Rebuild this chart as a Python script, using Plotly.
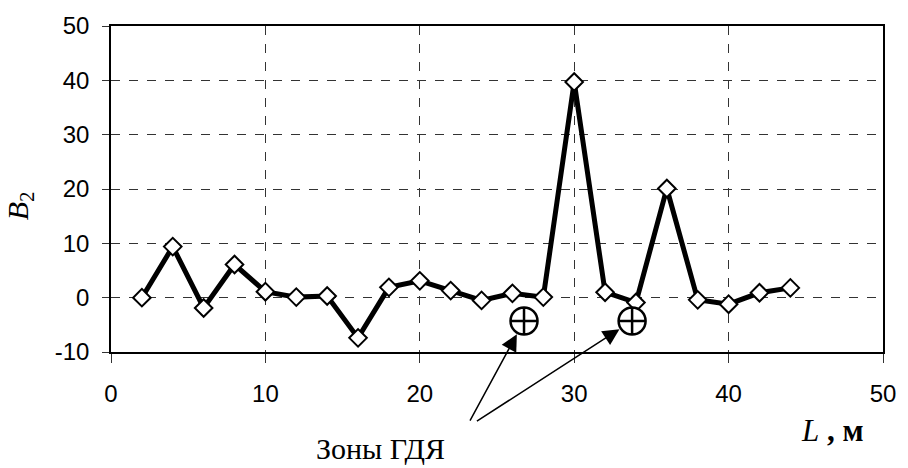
import plotly.graph_objects as go

# Data
L_m = [2, 4, 6, 8, 10, 12, 14, 16, 18, 20, 22, 24, 26, 28, 30, 32, 34, 36, 38, 40, 42, 44]
B2 = [0.0, 9.4, -1.9, 6.1, 1.1, 0.1, 0.3, -7.4, 1.9, 3.1, 1.3, -0.5, 0.8, 0.1,
      39.7, 1.0, -0.9, 20.1, -0.4, -1.2, 0.9, 1.8]
zone_x = [26.75, 33.75]
zone_y = [-4.3, -4.3]
arrow_tail_x = [23.2, 23.6]
arrow_tail_y = [-22.9, -22.9]
x_ticks = [0, 10, 20, 30, 40, 50]
x_tick_text = ["0", "10", "20", "30", "40", "50"]
y_ticks = [-10, 0, 10, 20, 30, 40, 50]
y_tick_text = ["-10", "0", "10", "20", "30", "40", "50"]

fig = go.Figure()
fig.add_trace(go.Scatter(
    x=L_m, y=B2, mode="lines+markers",
    line=dict(color="black", width=5),
    marker=dict(symbol="diamond", size=13.5, color="white",
                line=dict(color="black", width=2)),
    cliponaxis=False, showlegend=False,
))
fig.add_trace(go.Scatter(
    x=zone_x, y=zone_y, mode="markers",
    marker=dict(symbol="circle-cross", size=27, color="white",
                line=dict(color="black", width=2.5)),
    cliponaxis=False, showlegend=False,
))

for zx, zy, tx, ty in zip(zone_x, zone_y, arrow_tail_x, arrow_tail_y):
    fig.add_annotation(x=zx, y=zy, xref="x", yref="y",
                       ax=tx, ay=ty, axref="x", ayref="y",
                       text="", showarrow=True, arrowhead=2,
                       arrowsize=2.2, arrowwidth=1.5, arrowcolor="black",
                       standoff=15)

serif = "Liberation Serif"
fig.add_annotation(x=0.3496, y=-0.295, xref="paper", yref="paper",
                   text="Зоны ГДЯ", showarrow=False,
                   font=dict(family=serif, size=30, color="black"),
                   xanchor="center", yanchor="middle")
fig.add_annotation(x=0.934, y=-0.24, xref="paper", yref="paper",
                   text="<i>L</i> <b>, м</b>", showarrow=False,
                   font=dict(family=serif, size=31, color="black"),
                   xanchor="center", yanchor="middle")
fig.add_annotation(x=-0.118, y=0.45, xref="paper", yref="paper",
                   text="<i>B</i><sub>2</sub>", showarrow=False,
                   textangle=-90,
                   font=dict(family=serif, size=30, color="black"),
                   xanchor="center", yanchor="middle")

axis_common = dict(
    showline=True, linecolor="black", linewidth=1.5, mirror=True,
    showgrid=True, gridcolor="#333333", gridwidth=1, griddash="dash",
    zeroline=False, ticks="outside", tickcolor="#333333",
    tickfont=dict(family="Liberation Sans", size=24, color="black"),
)
fig.update_xaxes(range=[0, 50], tickvals=x_ticks, ticktext=x_tick_text,
                 ticklen=9, ticklabelstandoff=10, **axis_common)
fig.update_yaxes(range=[-10, 50], tickvals=y_ticks, ticktext=y_tick_text,
                 ticklen=7, ticklabelstandoff=8, **axis_common)

fig.update_layout(
    width=908, height=468,
    margin=dict(l=111, r=16, t=22, b=116),
    plot_bgcolor="white", paper_bgcolor="white",
)

fig.write_html("out.html")
